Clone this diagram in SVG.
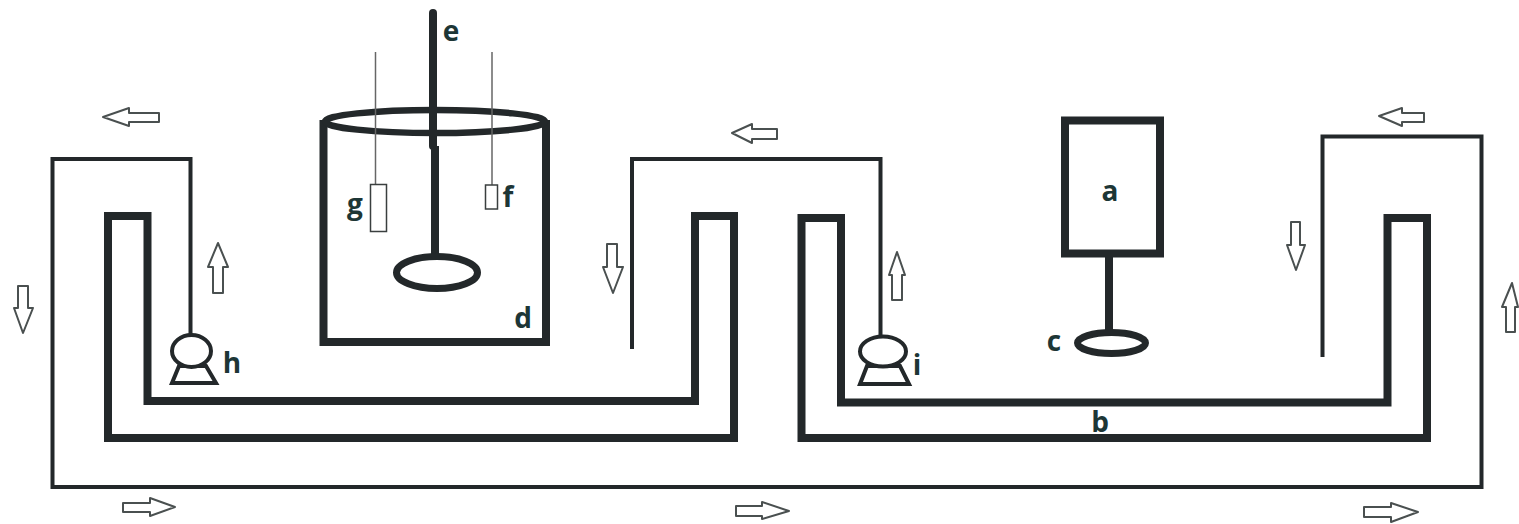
<svg xmlns="http://www.w3.org/2000/svg" width="1519" height="524" viewBox="0 0 1519 524">
<style>
.thick{fill:none;stroke:#23282a;stroke-width:8;stroke-linejoin:miter}
.pipe{fill:none;stroke:#23282a;stroke-width:4;stroke-linejoin:miter}
.thin{fill:none;stroke:#666;stroke-width:1.5}
.probe{fill:#fff;stroke:#3a3f3f;stroke-width:1.5}
.pump{fill:#fff;stroke:#23282a;stroke-width:4}
.arrow{fill:#fff;stroke:#4a5050;stroke-width:2;stroke-linejoin:round}
.label{font-family:"Open Sans","Liberation Sans",sans-serif;font-weight:700;font-size:28px;fill:#1d3636;text-anchor:middle}
</style>
<rect width="1519" height="524" fill="#fff"/>
<g id="connectors">
<path class="pipe" d="M190.500 336V159H52.500V487H1481.500V136.500H1322.500V357"/>
<path class="pipe" d="M880.500 338V159H632V349"/>
</g>
<g id="tube-left"><path class="thick" d="M108 216H147.500V401H695V216H734V438H108Z"/></g>
<g id="tube-right"><path class="thick" d="M801.500 218H841V402.500H1387.500V218H1427V438H801.500Z"/><text class="label" x="1100" y="432">b</text></g>
<g id="vessel-d">
<path class="thick" d="M323.500 120V342H546V120"/>
<ellipse cx="435" cy="121.500" rx="110" ry="11.500" fill="none" stroke="#23282a" stroke-width="6.500"/>
<text class="label" x="523" y="328">d</text>
</g>
<g id="stirrer-e">
<path class="thick" stroke-linecap="round" d="M433 13V146"/>
<path class="thick" d="M435 146V254"/>
<ellipse cx="437" cy="272.500" rx="40.500" ry="16" fill="none" stroke="#23282a" stroke-width="7"/>
<text class="label" x="451" y="41">e</text>
</g>
<g id="probe-g">
<path class="thin" d="M375.500 52V184"/>
<rect class="probe" x="370.500" y="184.500" width="16" height="47"/>
<text class="label" x="355" y="214">g</text>
</g>
<g id="probe-f">
<path class="thin" d="M492 52V185"/>
<rect class="probe" x="485.500" y="185" width="12" height="24"/>
<text class="label" x="508" y="207">f</text>
</g>
<g id="unit-a">
<rect class="thick" x="1065" y="120.500" width="95" height="133"/>
<text class="label" x="1110" y="201">a</text>
</g>
<g id="sparger-c">
<path class="thick" d="M1109 257V332"/>
<ellipse cx="1111.500" cy="343" rx="34" ry="10.500" fill="none" stroke="#23282a" stroke-width="7"/>
<text class="label" x="1054" y="351">c</text>
</g>
<g id="pump-h">
<path class="pump" d="M179 366L172 383H216L206 366Z"/>
<ellipse class="pump" cx="191.500" cy="351" rx="19.500" ry="16"/>
<text class="label" x="232" y="373">h</text>
</g>
<g id="pump-i">
<path class="pump" d="M867 366L860 384H909L900 366Z"/>
<ellipse class="pump" cx="883" cy="351.500" rx="23" ry="15"/>
<text class="label" x="917" y="375">i</text>
</g>
<g id="flow-arrows">
<polygon class="arrow" points="103,117 129,108 129,113 159,113 159,122 129,122 129,126"/>
<polygon class="arrow" points="218,243 228,267 223,267 223,293 213,293 213,267 208,267"/>
<polygon class="arrow" points="23,333 33,308 28,308 28,286 18,286 18,308 14,308"/>
<polygon class="arrow" points="175,507 150,498 150,503 123,503 123,512 150,512 150,516"/>
<polygon class="arrow" points="732,133 752,124 752,129 777,129 777,139 752,139 752,143"/>
<polygon class="arrow" points="613,293 623,267 617,267 617,244 607,244 607,267 603,267"/>
<polygon class="arrow" points="897,252 905,275 902,275 902,300 892,300 892,275 889,275"/>
<polygon class="arrow" points="789,511 762,502 762,506 736,506 736,516 762,516 762,519"/>
<polygon class="arrow" points="1379,116 1402,108 1402,113 1424,113 1424,122 1402,122 1402,126"/>
<polygon class="arrow" points="1296,270 1305,245 1300,245 1300,222 1291,222 1291,245 1287,245"/>
<polygon class="arrow" points="1512,283 1518,307 1515,307 1515,332 1506,332 1506,307 1502,307"/>
<polygon class="arrow" points="1418,512 1391,503 1391,507 1364,507 1364,517 1391,517 1391,522"/>
</g>
</svg>
